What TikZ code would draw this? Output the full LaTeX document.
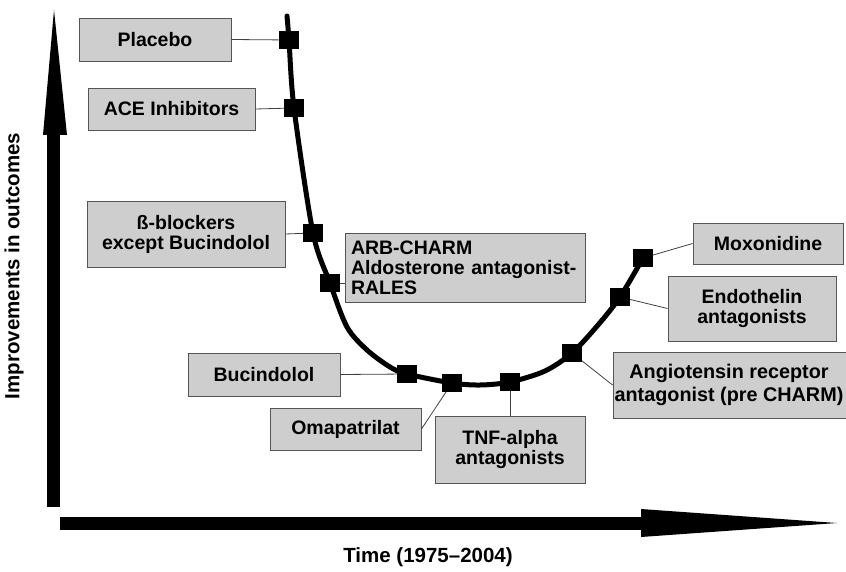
\documentclass[tikz,border=0pt]{standalone}
\usepackage{fontspec}
\setmainfont{Liberation Sans}
\definecolor{boxgray}{RGB}{206,206,206}
\definecolor{edgegray}{RGB}{85,85,85}
\tikzset{
  lbl/.style={draw=edgegray, line width=0.9pt, fill=boxgray, inner sep=0pt, align=center,
    font=\fontsize{19.5}{20}\bfseries\selectfont},
  mk/.style={fill=black, draw=none, minimum width=20pt, minimum height=18pt, inner sep=0pt},
  conn/.style={draw=black!75, line width=0.8pt},
  axislabel/.style={font=\fontsize{20.5}{22}\bfseries\selectfont}
}
\begin{document}
\begin{tikzpicture}[x=1pt,y=-1pt]
\useasboundingbox (0,0) rectangle (846,572);
% axes
\fill (47,135) rectangle (60,507);
\fill (43,135) -- (67,135) -- (54,10) -- cycle;
\fill (60,517) rectangle (641,530);
\fill (641,509) -- (641,537) -- (837,523) -- cycle;
\node[axislabel, rotate=90] (ylab) at (14,266) {Improvements in outcomes};
\node[axislabel] (xlab) at (428,557) {Time (1975--2004)};
% curve
\draw[line width=5pt, line cap=round] plot[smooth, tension=0.5] coordinates {
 (287,16) (289,40) (294,108) (313,233) (330,283) (347,327) (367,350) (390,367)
 (407,374) (452,383) (480,385) (510,382) (545,371) (572,353) (598,325) (620,297) (643,258)};
% marker positions
\coordinate (p1) at (289,40);
\coordinate (p2) at (294,108);
\coordinate (p3) at (313,233);
\coordinate (p4) at (330,283);
\coordinate (p5) at (407,374);
\coordinate (p6) at (452,383);
\coordinate (p7) at (510,382);
\coordinate (p8) at (572,353);
\coordinate (p9) at (620,297);
\coordinate (p10) at (643,258);
% boxes
\node[lbl, minimum width=152pt, minimum height=43pt] (placebo) at (155,39.5) {Placebo};
\node[lbl, minimum width=167pt, minimum height=42pt] (ace) at (171.5,109) {ACE Inhibitors};
\node[lbl, minimum width=198pt, minimum height=66pt] (beta) at (186,234) {ß-blockers\\except Bucindolol};
\node[lbl, minimum width=240pt, minimum height=69pt, text width=228pt, align=left, inner xsep=6pt] (arb) at (465,267.5) {ARB-CHARM\\Aldosterone antagonist-\\RALES};
\node[lbl, minimum width=152pt, minimum height=43pt] (buc) at (264,374.5) {Bucindolol};
\node[lbl, minimum width=151pt, minimum height=42pt] (oma) at (345.5,429) {Omapatrilat};
\node[lbl, minimum width=150pt, minimum height=67pt] (tnf) at (510,449.5) {TNF-alpha\\antagonists};
\node[lbl, minimum width=240pt, minimum height=66pt] (ang) at (733,385) {};
\node[font=\fontsize{19.8}{23}\bfseries\selectfont, align=center, inner sep=0pt] (angtext) at (729,385) {Angiotensin receptor\\antagonist (pre CHARM)};
\node[lbl, minimum width=168pt, minimum height=65pt] (endo) at (752,308.5) {Endothelin\\antagonists};
\node[lbl, minimum width=150pt, minimum height=41pt] (mox) at (768,243.5) {Moxonidine};
% connectors
\draw[conn] (placebo.east) -- (p1);
\draw[conn] (ace.east) -- (p2);
\draw[conn] (beta.east) -- (p3);
\draw[conn] (arb.west |- p4) -- (p4);
\draw[conn] (buc.east) -- (p5);
\draw[conn] (oma.east) -- (p6);
\draw[conn] (tnf.north) -- (p7);
\draw[conn] (ang.west) -- (p8);
\draw[conn] (endo.west) -- (p9);
\draw[conn] (mox.west) -- (p10);
% markers on top
\foreach \p in {p1,p2,p3,p4,p5,p6,p7,p8,p9,p10} \node[mk] (m\p) at (\p) {};
\end{tikzpicture}
\end{document}
